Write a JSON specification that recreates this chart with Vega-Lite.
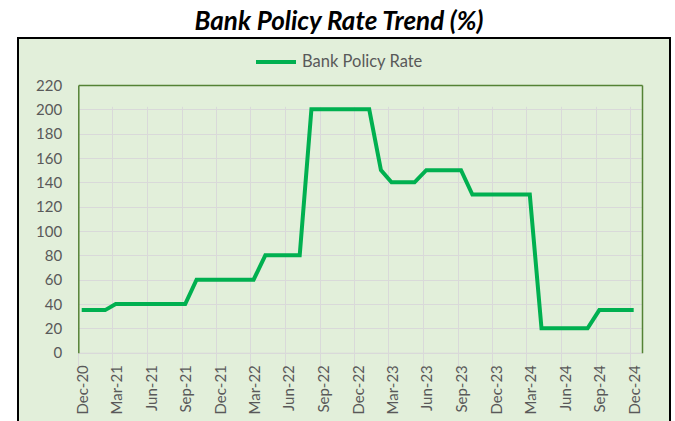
{
  "$schema": "https://vega.github.io/schema/vega-lite/v6.json",
  "width": 652,
  "height": 383,
  "autosize": {"type": "none"},
  "padding": {"left": 18, "top": 38, "right": 5, "bottom": 0},
  "background": "white",
  "title": {
    "text": "Bank Policy Rate Trend (%)",
    "font": "Lato",
    "fontSize": 26,
    "fontWeight": "bold",
    "fontStyle": "italic",
    "color": "black",
    "anchor": "middle",
    "frame": "group",
    "offset": 3,
    "dx": -5
  },
  "config": {
    "view": {"fill": "#E2EFDA", "stroke": "black", "strokeWidth": 2, "strokeDash": [1035, 652, 383]},
    "axis": {
      "labelFont": "Lato",
      "labelFontSize": 15,
      "labelColor": "#595959",
      "gridColor": "#D9D9D9",
      "gridWidth": 1,
      "title": null
    }
  },
  "data": {
    "values": [
      {"date": "2020-12-10", "rate": 35},
      {"date": "2021-01-10", "rate": 35},
      {"date": "2021-02-10", "rate": 35},
      {"date": "2021-03-10", "rate": 40},
      {"date": "2021-04-10", "rate": 40},
      {"date": "2021-05-10", "rate": 40},
      {"date": "2021-06-10", "rate": 40},
      {"date": "2021-07-10", "rate": 40},
      {"date": "2021-08-10", "rate": 40},
      {"date": "2021-09-10", "rate": 40},
      {"date": "2021-10-10", "rate": 60},
      {"date": "2021-11-10", "rate": 60},
      {"date": "2021-12-10", "rate": 60},
      {"date": "2022-01-10", "rate": 60},
      {"date": "2022-02-10", "rate": 60},
      {"date": "2022-03-10", "rate": 60},
      {"date": "2022-04-10", "rate": 80},
      {"date": "2022-05-10", "rate": 80},
      {"date": "2022-06-10", "rate": 80},
      {"date": "2022-07-10", "rate": 80},
      {"date": "2022-08-10", "rate": 200},
      {"date": "2022-09-10", "rate": 200},
      {"date": "2022-10-10", "rate": 200},
      {"date": "2022-11-10", "rate": 200},
      {"date": "2022-12-10", "rate": 200},
      {"date": "2023-01-10", "rate": 200},
      {"date": "2023-02-10", "rate": 150},
      {"date": "2023-03-10", "rate": 140},
      {"date": "2023-04-10", "rate": 140},
      {"date": "2023-05-10", "rate": 140},
      {"date": "2023-06-10", "rate": 150},
      {"date": "2023-07-10", "rate": 150},
      {"date": "2023-08-10", "rate": 150},
      {"date": "2023-09-10", "rate": 150},
      {"date": "2023-10-10", "rate": 130},
      {"date": "2023-11-10", "rate": 130},
      {"date": "2023-12-10", "rate": 130},
      {"date": "2024-01-10", "rate": 130},
      {"date": "2024-02-10", "rate": 130},
      {"date": "2024-03-10", "rate": 130},
      {"date": "2024-04-10", "rate": 20},
      {"date": "2024-05-10", "rate": 20},
      {"date": "2024-06-10", "rate": 20},
      {"date": "2024-07-10", "rate": 20},
      {"date": "2024-08-10", "rate": 20},
      {"date": "2024-09-10", "rate": 35},
      {"date": "2024-10-10", "rate": 35},
      {"date": "2024-11-10", "rate": 35},
      {"date": "2024-12-10", "rate": 35}
    ]
  },
  "layer": [
    {
      "mark": {"type": "line", "strokeOpacity": 0},
      "encoding": {
        "x": {
          "field": "date",
          "type": "temporal",
          "scale": {
            "type": "utc",
            "domain": [
              {"year": 2020, "month": 12, "date": 1, "utc": true},
              {"year": 2025, "month": 1, "date": 1, "utc": true}
            ],
            "range": [60.3, 624],
            "nice": false
          },
          "axis": {
            "orient": "top",
            "offset": -47,
            "labels": false,
            "ticks": false,
            "grid": false,
            "domainColor": "#548235",
            "domainWidth": 1.5,
            "title": null
          }
        },
        "y": {
          "field": "rate",
          "type": "quantitative",
          "scale": {"domain": [0, 220], "range": [314.7, 47], "nice": false, "zero": false},
          "axis": {
            "orient": "right",
            "offset": -28,
            "labels": false,
            "ticks": false,
            "grid": false,
            "domainColor": "#548235",
            "domainWidth": 1.5,
            "title": null
          }
        }
      }
    },
    {
      "mark": {"type": "line", "strokeWidth": 4},
      "encoding": {
        "x": {
          "field": "date",
          "type": "temporal",
          "scale": {
            "type": "utc",
            "domain": [
              {"year": 2020, "month": 12, "date": 1, "utc": true},
              {"year": 2025, "month": 1, "date": 1, "utc": true}
            ],
            "range": [60.3, 624],
            "nice": false
          },
          "axis": {
            "orient": "bottom",
            "offset": -68.3,
            "values": [
              {"year": 2020, "month": 12, "date": 1, "utc": true},
              {"year": 2021, "month": 3, "date": 1, "utc": true},
              {"year": 2021, "month": 6, "date": 1, "utc": true},
              {"year": 2021, "month": 9, "date": 1, "utc": true},
              {"year": 2021, "month": 12, "date": 1, "utc": true},
              {"year": 2022, "month": 3, "date": 1, "utc": true},
              {"year": 2022, "month": 6, "date": 1, "utc": true},
              {"year": 2022, "month": 9, "date": 1, "utc": true},
              {"year": 2022, "month": 12, "date": 1, "utc": true},
              {"year": 2023, "month": 3, "date": 1, "utc": true},
              {"year": 2023, "month": 6, "date": 1, "utc": true},
              {"year": 2023, "month": 9, "date": 1, "utc": true},
              {"year": 2023, "month": 12, "date": 1, "utc": true},
              {"year": 2024, "month": 3, "date": 1, "utc": true},
              {"year": 2024, "month": 6, "date": 1, "utc": true},
              {"year": 2024, "month": 9, "date": 1, "utc": true},
              {"year": 2024, "month": 12, "date": 1, "utc": true}
            ],
            "labelExpr": "utcFormat(datum.value, '%b-%y')",
            "labelAngle": 270,
            "labelAlign": "right",
            "labelBaseline": "middle",
            "labelOffset": 4,
            "labelPadding": 7,
            "labelFlush": false,
            "labelOverlap": false,
            "labelBound": false,
            "tickSize": 5,
            "tickColor": "#D9D9D9",
            "domainColor": "#D9D9D9",
            "grid": true,
            "title": null
          }
        },
        "y": {
          "field": "rate",
          "type": "quantitative",
          "scale": {"domain": [0, 220], "range": [314.7, 47], "nice": false, "zero": false},
          "axis": {
            "orient": "left",
            "offset": -60.3,
            "values": [0, 20, 40, 60, 80, 100, 120, 140, 160, 180, 200, 220],
            "ticks": false,
            "tickSize": 0,
            "labelPadding": 16.6,
            "domainColor": "#548235",
            "domainWidth": 1.5,
            "grid": true,
            "title": null
          }
        },
        "color": {
          "datum": "Bank Policy Rate",
          "type": "nominal",
          "scale": {"range": ["#00B050"]},
          "legend": {
            "orient": "none",
            "legendX": 236,
            "legendY": 2,
            "title": null,
            "symbolType": "stroke",
            "symbolSize": 1600,
            "symbolStrokeWidth": 4,
            "labelFont": "Lato",
            "labelFontSize": 16.5,
            "labelColor": "#595959",
            "labelOffset": 4,
            "padding": 0
          }
        }
      }
    }
  ],
  "resolve": {"axis": {"x": "independent", "y": "independent"}}
}
